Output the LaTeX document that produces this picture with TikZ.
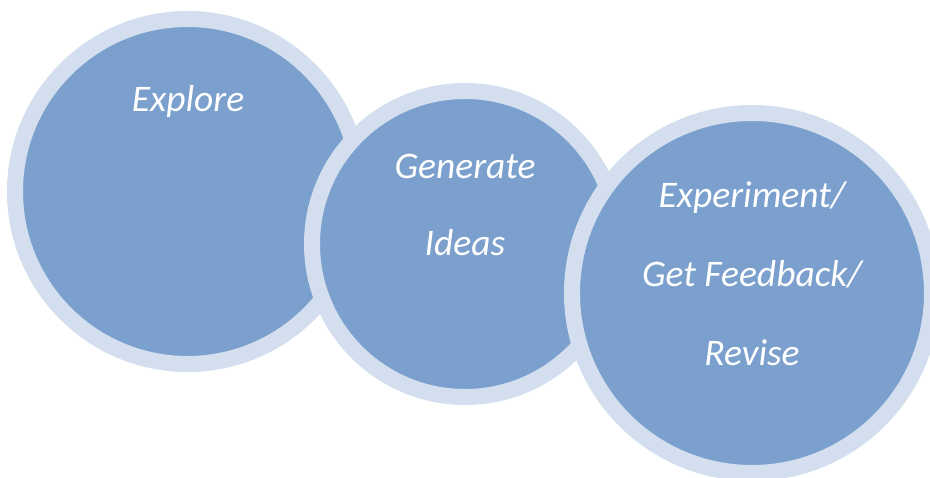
\documentclass[tikz,border=0pt]{standalone}
\usepackage{fontspec}
\setmainfont{Carlito}
\definecolor{discfill}{HTML}{7BA0CD}
\definecolor{discring}{HTML}{D3DFEE}
\begin{document}
\begin{tikzpicture}[x=1pt,y=-1pt,
  disc/.style={circle,fill=discfill,draw=discring,line width=16pt,inner sep=0pt},
  lbl/.style={anchor=base,text=white,font=\fontsize{37.5}{42}\selectfont\itshape,inner sep=0pt}]
\useasboundingbox (0,0) rectangle (930,478);
\clip (0,0) rectangle (930,478);
\node[disc,minimum size=345pt] (c1) at (187.5,191.5) {};
\node[disc,minimum size=306pt] (c2) at (465,244) {};
\node[disc,minimum size=360pt] (c3) at (752,293) {};
\node[lbl] (t1) at (188,112) {Explore};
\node[lbl] (t2) at (465,179) {Generate};
\node[lbl] (t3) at (465,256) {Ideas};
\node[lbl] (t4) at (752,208) {Experiment/};
\node[lbl] (t5) at (752,287) {Get Feedback/};
\node[lbl] (t6) at (752,366) {Revise};
\end{tikzpicture}
\end{document}
